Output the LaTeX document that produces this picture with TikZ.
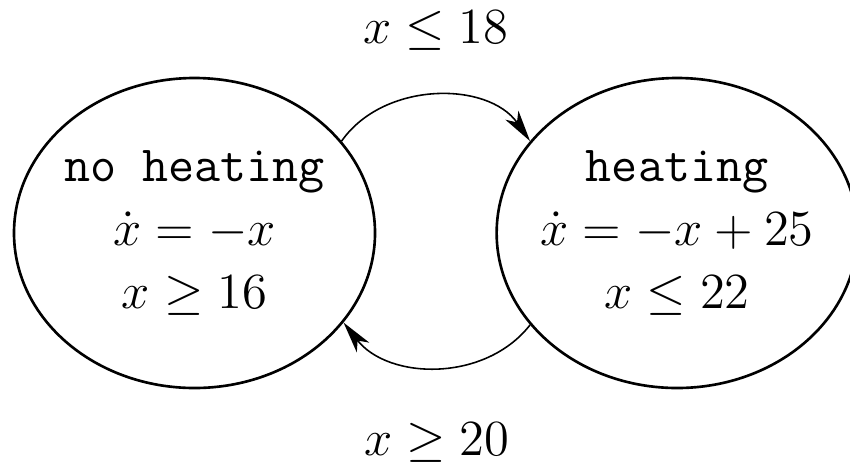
\documentclass[tikz,border=0pt]{standalone}
\usepackage{amsmath,amssymb}
\usepackage{tikz}
\usetikzlibrary{shapes,arrows.meta,positioning}

\begin{document}
\begin{tikzpicture}[
    >={Stealth[length=9pt,width=4.5pt,inset=2.5pt]},
    mode/.style={ellipse, draw, line width=0.75pt, minimum width=3.61cm, minimum height=3.1cm, inner xsep=-0.1cm, inner ysep=0pt, align=center, font=\Large},
    jump/.style={->, line width=0.45pt},
    guard/.style={font=\Large, inner sep=0pt}
]
\useasboundingbox (0,0) rectangle (8.5,4.64);
\node[mode] (off) at (1.945,2.31) {\texttt{no heating}\\ $\dot{x} = -x$\\ $x \geq 16$};
\node[mode] (on) [right=1.19cm of off] {\texttt{heating}\\ $\dot{x} = -x + 25$\\ $x \leq 22$};

\draw[jump] (off.32) to[out=55,in=125] node[guard, above=0.45cm] (up) {$x \leq 18$} (on.148);
\draw[jump] (on.212) to[out=232,in=308] node[guard, below=0.55cm] (down) {$x \geq 20$} (off.329);
\end{tikzpicture}
\end{document}
